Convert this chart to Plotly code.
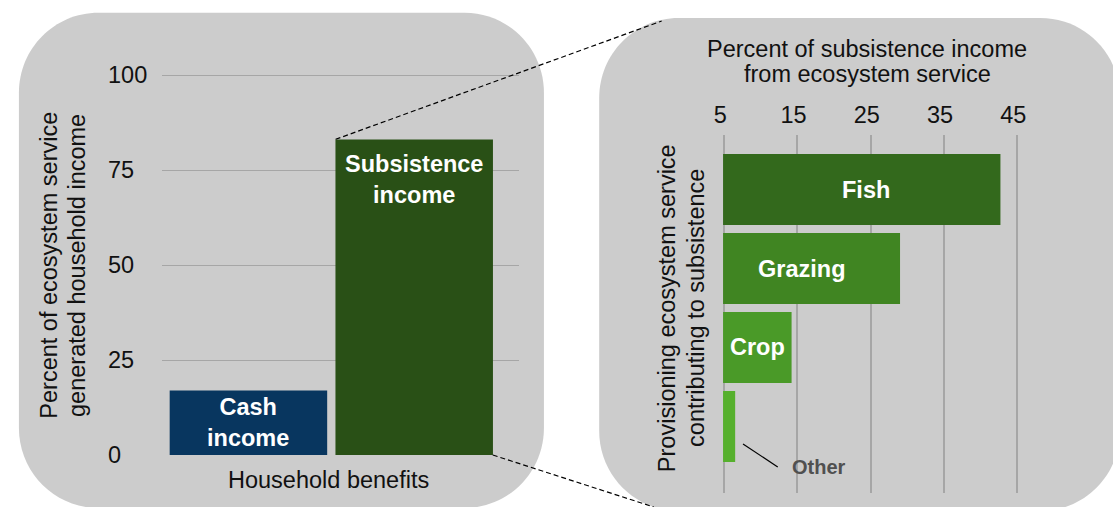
import plotly.graph_objects as go

# ---------------- data ----------------
left_categories = ["Cash income", "Subsistence income"]
left_values = [17, 83]
left_labels = ["Cash<br>income", "Subsistence<br>income"]
left_ticks = [0, 25, 50, 75, 100]
left_ytitle = ["Percent of ecosystem service", "generated household income"]
left_xtitle = "Household benefits"

right_categories = ["Fish", "Grazing", "Crop", "Other"]
right_values = [42.7, 29.0, 14.2, 6.5]
right_labels = ["Fish", "Grazing", "Crop", ""]
right_ticks = [5, 15, 25, 35, 45]
right_xtitle = ["Percent of subsistence income", "from ecosystem service"]
right_ytitle = ["Provisioning ecosystem service", "contributing to subsistence"]
other_label = "Other"

# ---------------- styles ----------------
W, H = 1113, 507
FONT = "Liberation Sans, Arial, sans-serif"
FS = 23.5
left_colors = ["#08365f", "#295016"]
right_colors = ["#33691c", "#408522", "#4a9a28", "#56b02d"]
right_label_xshift = [4, -11, 0, 0]
PANEL = "#cccccc"
GRID = "#a6a6a6"
TXT = "#111111"


def px(x):
    return x / W


def py(y):
    return 1 - y / H


def rrect(x0, y0, x1, y1, r):
    k = 0.5523 * r
    pts = [
        f"M {px(x0 + r)},{py(y0)}",
        f"L {px(x1 - r)},{py(y0)}",
        f"C {px(x1 - r + k)},{py(y0)} {px(x1)},{py(y0 + r - k)} {px(x1)},{py(y0 + r)}",
        f"L {px(x1)},{py(y1 - r)}",
        f"C {px(x1)},{py(y1 - r + k)} {px(x1 - r + k)},{py(y1)} {px(x1 - r)},{py(y1)}",
        f"L {px(x0 + r)},{py(y1)}",
        f"C {px(x0 + r - k)},{py(y1)} {px(x0)},{py(y1 - r + k)} {px(x0)},{py(y1 - r)}",
        f"L {px(x0)},{py(y0 + r)}",
        f"C {px(x0)},{py(y0 + r - k)} {px(x0 + r - k)},{py(y0)} {px(x0 + r)},{py(y0)}",
        "Z",
    ]
    return " ".join(pts)


fig = go.Figure()

# left panel bars
fig.add_trace(go.Bar(
    x=left_categories, y=left_values,
    marker=dict(color=left_colors, line=dict(width=0)),
    width=0.95,
    xaxis="x", yaxis="y", showlegend=False, hoverinfo="skip",
))

# right panel bars
rx0, rx1 = 4.85, 52
fig.add_trace(go.Bar(
    y=right_categories, x=right_values, orientation="h",
    marker=dict(color=right_colors, line=dict(width=0)),
    width=0.9,
    xaxis="x2", yaxis="y2", showlegend=False, hoverinfo="skip",
))

# left axes
lx0, lx1 = 154.3, 514.3
ly_top = 100.6
fig.update_layout(
    xaxis=dict(domain=[px(lx0), px(lx1)], range=[-0.521, 1.633], showticklabels=False,
               showgrid=False, zeroline=False, showline=False, ticks=""),
    yaxis=dict(domain=[py(455), py(75 - (ly_top - 100) * 3.8)], range=[0, ly_top],
               tickvals=left_ticks, showticklabels=False, showgrid=True,
               gridcolor=GRID, gridwidth=1, zeroline=False, showline=False, ticks=""),
)

# right axes
rx_per = (1016.5 - 721) / 40.0
fig.update_layout(
    xaxis2=dict(domain=[px(721 - (5 - rx0) * rx_per), px(721 + (rx1 - 5) * rx_per)],
                range=[rx0, rx1], side="top", anchor="y2", tickvals=right_ticks,
                showgrid=True, gridcolor=GRID, gridwidth=1.5, zeroline=False,
                showline=False, ticks="", ticklabelstandoff=6, ticklabelshift=-4,
                tickfont=dict(family=FONT, size=FS, color=TXT)),
    yaxis2=dict(domain=[py(493), py(135)], anchor="x2", type="category",
                categoryorder="array", categoryarray=right_categories[::-1],
                range=[-0.842, 3.69], showticklabels=False, showgrid=False,
                zeroline=False, showline=False, ticks=""),
)

shapes = [
    dict(type="path", path=rrect(10, 12.7, 539.3, 508, 80), xref="paper", yref="paper",
         fillcolor=PANEL, line=dict(width=0), layer="below"),
    dict(type="path", path=rrect(595, 18, 1120, 511, 80), xref="paper", yref="paper",
         fillcolor=PANEL, line=dict(width=0), layer="below"),
    dict(type="line", xref="paper", yref="paper", x0=px(329.3), y0=py(139.3), x1=px(658), y1=py(21),
         line=dict(color="black", width=1.2, dash="5px,3px"), layer="above"),
    dict(type="line", xref="paper", yref="paper", x0=px(487.7), y0=py(455), x1=px(650), y1=py(507),
         line=dict(color="black", width=1.2, dash="5px,3px"), layer="above"),
    dict(type="line", xref="paper", yref="paper", x0=px(740), y0=py(444), x1=px(775), y1=py(467),
         line=dict(color="black", width=1.2), layer="above"),
]

annotations = []
# left y tick labels (left-aligned)
for t in left_ticks:
    annotations.append(dict(text=str(t), x=px(98), xref="paper", xanchor="left",
                            y=t, yref="y", yanchor="middle", showarrow=False,
                            font=dict(family=FONT, size=FS, color=TXT)))
# left bar labels
annotations.append(dict(text=left_labels[0], x=left_categories[0], y=left_values[0] / 2,
                        xref="x", yref="y", xanchor="center", yanchor="middle",
                        showarrow=False,
                        font=dict(family=FONT, size=FS, color="white", weight="bold")))
annotations.append(dict(text=left_labels[1], x=left_categories[1], y=left_values[1],
                        xref="x", yref="y", xanchor="center", yanchor="top", yshift=-9,
                        showarrow=False,
                        font=dict(family=FONT, size=FS, color="white", weight="bold")))
# right bar labels, centred on the visible part of each bar
for cat, v, lab, xs in zip(right_categories, right_values, right_labels, right_label_xshift):
    if lab:
        annotations.append(dict(text=lab, x=(v + 5) / 2, y=cat, xref="x2", yref="y2",
                                xanchor="center", yanchor="middle", showarrow=False,
                                xshift=xs,
                                font=dict(family=FONT, size=FS, color="white", weight="bold")))
# titles (one annotation per line for exact line spacing)
for txt, xc in zip(left_ytitle, [40, 68.5]):
    annotations.append(dict(text=txt, x=px(xc), y=py(265), xref="paper", yref="paper",
                            textangle=-90, showarrow=False, xanchor="center", yanchor="middle",
                            font=dict(family=FONT, size=FS, color=TXT)))
for txt, xc in zip(right_ytitle, [663.5, 692.5]):
    annotations.append(dict(text=txt, x=px(xc), y=py(308), xref="paper", yref="paper",
                            textangle=-90, showarrow=False, xanchor="center", yanchor="middle",
                            font=dict(family=FONT, size=FS, color=TXT)))
for txt, yc in zip(right_xtitle, [48.5, 74.5]):
    annotations.append(dict(text=txt, x=px(865), y=py(yc), xref="paper", yref="paper",
                            showarrow=False, xanchor="center", yanchor="middle",
                            font=dict(family=FONT, size=FS, color=TXT)))
annotations += [
    dict(text=left_xtitle, x=px(322), y=py(480), xref="paper", yref="paper",
         showarrow=False, xanchor="center", yanchor="middle",
         font=dict(family=FONT, size=FS, color=TXT)),
    dict(text=other_label, x=px(787), y=py(467), xref="paper", yref="paper",
         showarrow=False, xanchor="left", yanchor="middle",
         font=dict(family=FONT, size=20, color="#505050", weight="bold")),
]

fig.update_layout(
    width=W, height=H, autosize=False,
    margin=dict(l=0, r=0, t=0, b=0, pad=0),
    paper_bgcolor="white", plot_bgcolor="rgba(0,0,0,0)",
    barmode="overlay", showlegend=False,
    shapes=shapes, annotations=annotations,
)

fig.write_html("out.html", config={"displayModeBar": False},
               post_script="document.body.style.margin='0';document.body.style.overflow='hidden';")
